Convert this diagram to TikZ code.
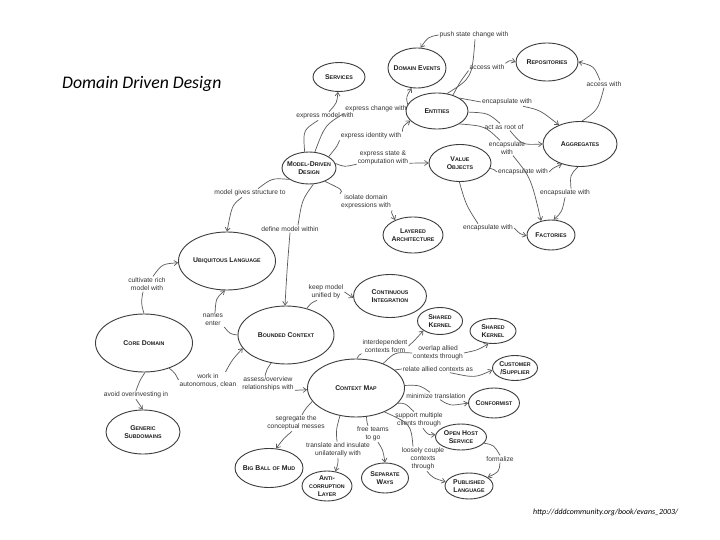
\documentclass[tikz,border=0pt]{standalone}
\usepackage{fontspec}
\setmainfont{Liberation Sans}
\newfontfamily\calib{Carlito}
\usetikzlibrary{shapes.geometric,arrows.meta}
\definecolor{edgec}{HTML}{5A5A5A}
\definecolor{ellc}{HTML}{3C3C3C}
\definecolor{txtc}{HTML}{1E1E1E}
\definecolor{labc}{HTML}{333333}
\newcommand{\cp}[1]{{\fontsize{5.3}{6}\selectfont #1}}
\begin{document}
\begin{tikzpicture}[x=1pt,y=-1pt,
  ell/.style={ellipse, draw=ellc, line width=0.9pt, inner sep=0pt},
  nt/.style={font=\bfseries\fontsize{6.9}{8}\selectfont, text=txtc, align=center, inner sep=0pt},
  lab/.style={font=\fontsize{6.7}{8}\selectfont, text=labc, align=center, inner sep=1pt},
  ln/.style={draw=edgec, line width=0.7pt},
  arr/.style={ln, -{Straight Barb[length=3.5pt,width=5pt]}}]
\fill[white] (0,0) rectangle (720,540);
\useasboundingbox (0,0) rectangle (720,540);

% title and source
\node[font=\calib\itshape\fontsize{17.7}{20}\selectfont, anchor=base west, inner sep=0pt] (title) at (62,89) {Domain Driven Design};
\node[font=\calib\itshape\fontsize{7.9}{9}\selectfont, anchor=base west, inner sep=0pt] (src) at (533,514.5) {http://dddcommunity.org/book/evans\_2003/};

% concepts
\node[ell, minimum width=52pt, minimum height=29pt, label={[nt]center:{S\cp{ERVICES}}}] (srv) at (339,77) {};
\node[ell, minimum width=58pt, minimum height=40pt, label={[nt]center:{D\cp{OMAIN} E\cp{VENTS}}}] (de) at (417,68) {};
\node[ell, minimum width=62pt, minimum height=36pt, label={[nt]center:{E\cp{NTITIES}}}] (ent) at (437,111) {};
\node[ell, minimum width=62pt, minimum height=38pt, label={[nt]center:{R\cp{EPOSITORIES}}}] (rep) at (547,62) {};
\node[ell, minimum width=74pt, minimum height=45pt, label={[nt]center:{A\cp{GGREGATES}}}] (agg) at (580,144) {};
\node[ell, minimum width=62pt, minimum height=37pt, label={[nt]center:{V\cp{ALUE}\\O\cp{BJECTS}}}] (vo) at (460,163) {};
\node[ell, minimum width=48pt, minimum height=30pt, label={[nt]center:{F\cp{ACTORIES}}}] (fac) at (551,235) {};
\node[ell, minimum width=54pt, minimum height=32pt, label={[nt]center:{M\cp{ODEL}-D\cp{RIVEN}\\D\cp{ESIGN}}}] (mdd) at (309,168) {};
\node[ell, minimum width=60pt, minimum height=36pt, label={[nt]center:{L\cp{AYERED}\\A\cp{RCHITECTURE}}}] (la) at (413,235) {};
\node[ell, minimum width=97pt, minimum height=58pt, label={[nt]center:{U\cp{BIQUITOUS} L\cp{ANGUAGE}}}] (ul) at (227,261) {};
\node[ell, minimum width=97pt, minimum height=58pt, label={[nt]center:{C\cp{ORE} D\cp{OMAIN}}}] (cd) at (144,343) {};
\node[ell, minimum width=74pt, minimum height=44pt, label={[nt]center:{G\cp{ENERIC}\\S\cp{UBDOMAINS}}}] (gs) at (143,432) {};
\node[ell, minimum width=96pt, minimum height=58pt, label={[nt]center:{B\cp{OUNDED} C\cp{ONTEXT}}}] (bc) at (286,335) {};
\node[ell, minimum width=73pt, minimum height=43pt, label={[nt]center:{C\cp{ONTINUOUS}\\I\cp{NTEGRATION}}}] (ci) at (390,296) {};
\node[ell, minimum width=45pt, minimum height=27pt, label={[nt]center:{S\cp{HARED}\\K\cp{ERNEL}}}] (sk1) at (440,321) {};
\node[ell, minimum width=46pt, minimum height=25pt, label={[nt]center:{S\cp{HARED}\\K\cp{ERNEL}}}] (sk2) at (493,331) {};
\node[ell, minimum width=45pt, minimum height=25pt, label={[nt]center:{C\cp{USTOMER}\\/S\cp{UPPLIER}}}] (cs) at (515,368) {};
\node[ell, minimum width=51pt, minimum height=30pt, label={[nt]center:{C\cp{ONFORMIST}}}] (conf) at (494,403) {};
\node[ell, minimum width=97pt, minimum height=58pt, label={[nt]center:{C\cp{ONTEXT} M\cp{AP}}}] (cm) at (356,388) {};
\node[ell, minimum width=51pt, minimum height=26pt, label={[nt]center:{O\cp{PEN} H\cp{OST}\\S\cp{ERVICE}}}] (ohs) at (461,437) {};
\node[ell, minimum width=48pt, minimum height=26pt, label={[nt]center:{P\cp{UBLISHED}\\L\cp{ANGUAGE}}}] (pl) at (469,486) {};
\node[ell, minimum width=47pt, minimum height=30pt, label={[nt]center:{S\cp{EPARATE}\\W\cp{AYS}}}] (sw) at (385,478) {};
\node[ell, minimum width=50pt, minimum height=30pt, label={[nt]center:{A\cp{NTI}-\\\cp{CORRUPTION}\\L\cp{AYER}}}] (acl) at (327,486) {};
\node[ell, minimum width=68pt, minimum height=39pt, label={[nt]center:{B\cp{IG} B\cp{ALL} \cp{OF} M\cp{UD}}}] (bbm) at (269,468) {};

% linking phrases
\node[lab] (emw) at (325,116) {express model with};
\node[lab] (ecw) at (376,109) {express change with};
\node[lab] (eiw) at (371,136) {express identity with};
\node[lab] (esc) at (383,158) {express state \&\\computation with};
\node[lab] (idw) at (366,202) {isolate domain\\expressions with};
\node[lab] (mgs) at (250,193) {model gives structure to};
\node[lab] (dmw) at (290,229) {define model within};
\node[lab] (crm) at (147,284) {cultivate rich\\model with};
\node[lab] (ne) at (213,320) {names\\enter};
\node[lab] (wia) at (208,380) {work in\\autonomous, clean};
\node[lab] (aoi) at (136,395) {avoid overinvesting in};
\node[lab] (aow) at (268,384) {assess/overview\\relationships with};
\node[lab] (sgm) at (296,423) {segregate the\\conceptual messes};
\node[lab] (tiu) at (338,450) {translate and insulate\\unilaterally with};
\node[lab] (fts) at (373,434) {free teams\\to go};
\node[lab] (smc) at (419,420) {support multiple\\clients through};
\node[lab] (lcc) at (423,459) {loosely couple\\contexts\\through};
\node[lab] (frm) at (500,459) {formalize};
\node[lab] (kmu) at (326,292) {keep model\\unified by};
\node[lab] (icf) at (385,346) {interdependent\\contexts form};
\node[lab] (oac) at (438,353) {overlap allied\\contexts through};
\node[lab] (rac) at (438,369) {relate allied contexts as};
\node[lab] (mt) at (436,396) {minimize translation};
\node[lab] (psc) at (474,35) {push state change with};
\node[lab] (aw1) at (487,67) {access with};
\node[lab] (ew1) at (507,102) {encapsulate with};
\node[lab] (aro) at (504,127) {act as root of};
\node[lab] (ew2) at (507,148) {encapsulate\\with};
\node[lab] (ew3) at (523,172) {encapsulate with};
\node[lab] (ew4) at (565,193) {encapsulate with};
\node[lab] (ew5) at (488,228) {encapsulate with};
\node[lab] (aw2) at (604,84) {access with};

% Model-Driven Design
\draw[ln] (mdd.105) .. controls (303,130) .. (emw);
\draw[arr] (emw) .. controls (337,103) .. (srv);
\draw[ln] (mdd.70) .. controls (325,125) .. (ecw.south west);
\draw[arr] (ecw.north east) .. controls (406,97) .. (de.255);
\draw[ln] (mdd.30) .. controls (338,145) .. (eiw.south west);
\draw[arr] (eiw.north east) .. controls (403,126) .. (ent.200);
\draw[ln] (mdd.10) .. controls (344,167) .. ([yshift=2pt]esc.south west);
\draw[arr] ([yshift=3pt]esc.south east) .. controls (420,163) .. (vo.180);
\draw[ln] (mdd.320) .. controls (343,190) .. (idw.north west);
\draw[arr] (idw.south east) .. controls (391,212) .. (la.140);
\draw[ln] (mdd.210) .. controls (272,178) .. ([xshift=8pt]mgs.north);
\draw[arr] ([xshift=-8pt]mgs.south) .. controls (232,205) .. (ul.90);
\draw[ln] (mdd.285) .. controls (302,200) .. ([xshift=8pt]dmw.north);
\draw[arr] (dmw.south) .. controls (287,270) .. (bc.92);

% Core domain, Ubiquitous language, Bounded context
\draw[ln] (cd.90) .. controls (141,303) .. ([xshift=-4pt]crm.south);
\draw[arr] ([xshift=6pt]crm.north) .. controls (162,264) .. (ul.182);
\draw[ln] (bc.180) .. controls (230,334) .. (ne.south east);
\draw[arr] ([xshift=2pt]ne.north) .. controls (216,298) .. (ul.266);
\draw[ln] (cd.315) .. controls (175,373) .. (wia.west);
\draw[arr] ([xshift=-12pt]wia.north east) .. controls (232,360) .. (bc.197);
\draw[ln] (cd.272) .. controls (140,380) .. (aoi.north);
\draw[arr] (aoi.south) .. controls (139,404) .. (gs.90);
\draw[ln] (bc.242) .. controls (267,369) .. ([xshift=-3pt]aow.north);
\draw[arr] ([yshift=2pt]aow.south east) -- (cm.182);
\draw[ln] (bc.52) .. controls (311,303) .. ([xshift=-9pt]kmu.south);
\draw[arr] (kmu.east) -- (ci.183);

% Context map
\draw[ln] (cm.197) .. controls (306,408) .. ([xshift=6pt]sgm.north);
\draw[arr] ([xshift=-4pt]sgm.south) .. controls (284,438) .. (bbm.70);
\draw[ln] (cm.240) .. controls (336,430) .. ([xshift=-1pt]tiu.north);
\draw[arr] (tiu.south) .. controls (338,464) .. (acl.60);
\draw[ln] (cm.290) .. controls (367,423) .. ([xshift=-5pt]fts.north);
\draw[arr] ([xshift=5pt]fts.south) .. controls (383,450) .. (sw.90);
\draw[ln] (cm.340) .. controls (405,403) .. ([xshift=-5pt]smc.north);
\draw[arr] ([xshift=4pt]smc.south) .. controls (428,435) .. (ohs.175);
\draw[ln] (cm.320) .. controls (411,424) .. ([xshift=-10pt]lcc.north);
\draw[arr] ([xshift=4pt]lcc.south) .. controls (433,478) .. (pl.170);
\draw[ln] (ohs.345) .. controls (494,445) .. (frm.north);
\draw[arr] (frm.south) .. controls (499,472) .. (pl.25);
\draw[ln] (cm.88) .. controls (359,355) .. (icf.south west);
\draw[arr] (icf.east) .. controls (415,340) .. (sk1.210);
\draw[ln] (cm.42) .. controls (395,352) .. (oac.west);
\draw[arr] (oac.east) .. controls (478,350) .. (sk2.250);
\draw[ln] (cm.25) -- (rac.west);
\draw[arr] ([xshift=12pt]rac.south) .. controls (475,378) .. (cs.185);
\draw[ln] (cm.3) .. controls (420,385) .. ([xshift=-6pt]mt.north);
\draw[arr] ([xshift=4pt]mt.south) .. controls (450,406) .. (conf.180);

% Entities, Aggregates, ...
\draw[ln] (ent.60) .. controls (472,78) .. ([xshift=1pt]psc.south);
\draw[arr] (psc.west) .. controls (428,37) .. (de.80);
\draw[ln] (ent.45) .. controls (460,82) .. (aw1.south west);
\draw[arr] (aw1.north east) .. controls (510,60) .. (rep.180);
\draw[ln] (ent.30) .. controls (470,100) .. (ew1.west);
\draw[arr] ([xshift=-10pt]ew1.south east) .. controls (540,110) .. (agg.138);
\draw[ln] (ent.358) .. controls (488,113) .. ([xshift=-4pt]aro.north);
\draw[arr] ([xshift=6pt]aro.south) .. controls (522,145) .. (agg.180);
\draw[ln] (ent.330) .. controls (485,126) .. ([xshift=-7pt]ew2.north);
\draw[arr] ([xshift=6pt]ew2.south) .. controls (531,178) .. (fac.125);
\draw[ln] (vo.350) .. controls (495,170) .. (ew3.west);
\draw[arr] (ew3.east) .. controls (553,168) .. (agg.228);
\draw[ln] (agg.265) .. controls (570,175) .. ([xshift=6pt]ew4.north);
\draw[arr] (ew4.south) .. controls (562,212) .. (fac.80);
\draw[ln] (vo.268) .. controls (466,205) .. ([xshift=-10pt]ew5.north);
\draw[arr] (ew5.east) .. controls (520,234) .. (fac.182);
\draw[ln] (agg.85) .. controls (598,110) .. (aw2.south);
\draw[arr] ([xshift=-4pt]aw2.north) .. controls (594,66) .. (rep.0);
\end{tikzpicture}
\end{document}
